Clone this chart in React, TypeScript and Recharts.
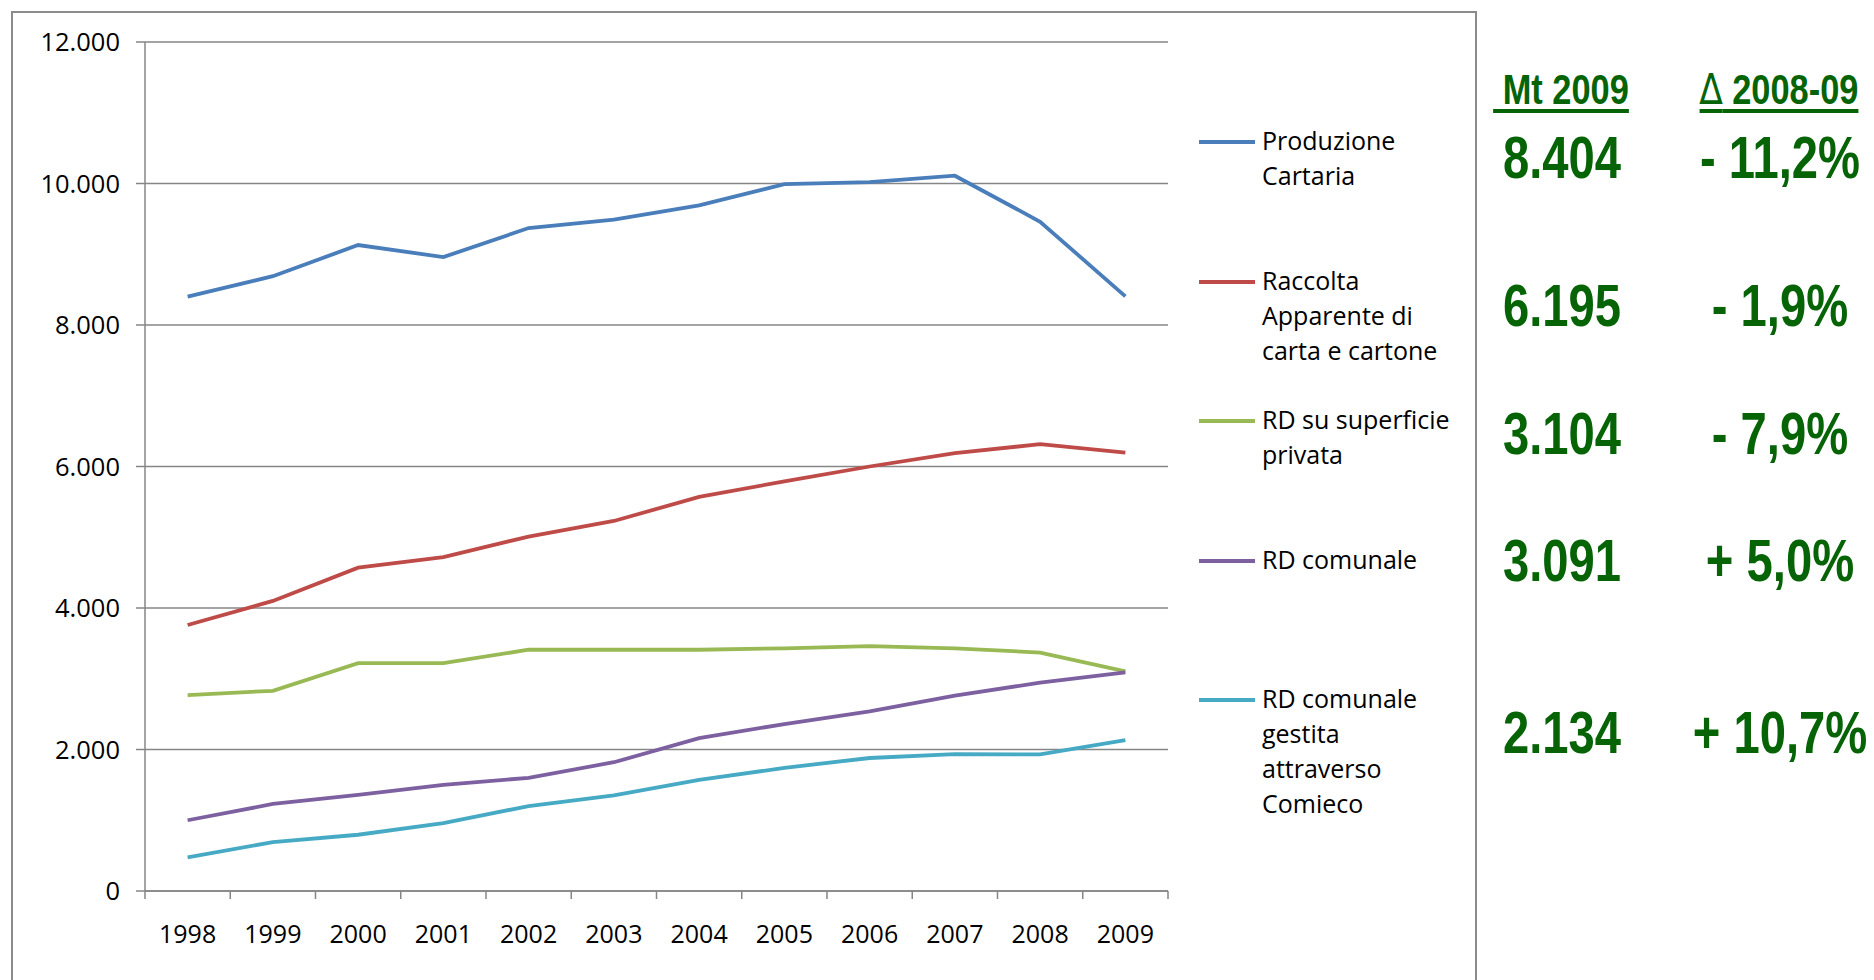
import { LineChart, Line, XAxis, YAxis, CartesianGrid } from 'recharts';

// Serie storiche (kt)
const years = ['1998', '1999', '2000', '2001', '2002', '2003', '2004', '2005', '2006', '2007', '2008', '2009'];
const produzioneCartaria = [8400, 8690, 9130, 8960, 9370, 9490, 9690, 9990, 10020, 10110, 9460, 8404];
const raccoltaApparente = [3760, 4100, 4570, 4720, 5010, 5230, 5570, 5790, 6000, 6190, 6315, 6195];
const rdPrivata = [2770, 2830, 3220, 3220, 3410, 3410, 3410, 3430, 3460, 3430, 3370, 3104];
const rdComunale = [1000, 1230, 1360, 1500, 1600, 1820, 2160, 2360, 2540, 2760, 2945, 3091];
const rdComieco = [475, 690, 795, 960, 1200, 1350, 1570, 1740, 1880, 1935, 1930, 2134];

const yTicks = [0, 2000, 4000, 6000, 8000, 10000, 12000];

// Colonne a destra
const mt2009 = ['8.404', '6.195', '3.104', '3.091', '2.134'];
const delta0809 = ['- 11,2%', '- 1,9%', '- 7,9%', '+ 5,0%', '+ 10,7%'];
const rowTops = [159, 307, 435, 562, 734];

const series = [
  { key: 'prod', name: ['Produzione', 'Cartaria'], color: '#4A7EBB', values: produzioneCartaria },
  { key: 'racc', name: ['Raccolta', 'Apparente di', 'carta e cartone'], color: '#BE4B48', values: raccoltaApparente },
  { key: 'priv', name: ['RD su superficie', 'privata'], color: '#98B954', values: rdPrivata },
  { key: 'com', name: ['RD comunale'], color: '#7D60A0', values: rdComunale },
  { key: 'comieco', name: ['RD comunale', 'gestita', 'attraverso', 'Comieco'], color: '#46AAC5', values: rdComieco },
];

const data = years.map((y, i) => {
  const row: Record<string, string | number> = { year: y };
  series.forEach((s) => {
    row[s.key] = s.values[i];
  });
  return row;
});

const FONT = '"Open Sans", sans-serif';
const GREEN = '#066406';
const AXIS = '#868686';

const fmt = (v: number) => v.toLocaleString('it-IT').replace(/\u00a0/g, '');

function YearTick(props: any) {
  const { x, y, payload, index, visibleTicksCount } = props;
  const off = payload.offset || 0;
  return (
    <g>
      <line x1={x - off} x2={x - off} y1={y} y2={y + 8} stroke={AXIS} strokeWidth={1.5} />
      {index === visibleTicksCount - 1 && (
        <line x1={x + off} x2={x + off} y1={y} y2={y + 8} stroke={AXIS} strokeWidth={1.5} />
      )}
      <text x={x} y={y + 45} textAnchor="middle" dominantBaseline="middle" fontFamily={FONT} fontSize={25} fill="#000">
        {payload.value}
      </text>
    </g>
  );
}

function LegendBox() {
  return (
    <div style={{ position: 'absolute', left: 1199, top: 123, fontFamily: FONT, fontSize: 25, color: '#000' }}>
      {series.map((s) => (
        <div key={s.key} style={{ height: 139.5, display: 'flex', alignItems: 'flex-start' }}>
          <div style={{ width: 56, height: 4, background: s.color, marginTop: 17, marginRight: 7 }} />
          <div style={{ lineHeight: '35px' }}>
            {s.name.map((t) => (
              <div key={t} style={{ whiteSpace: 'nowrap' }}>{t}</div>
            ))}
          </div>
        </div>
      ))}
    </div>
  );
}

const narrowBold: React.CSSProperties = {
  position: 'absolute',
  fontFamily: '"Liberation Sans", Arial, sans-serif',
  fontWeight: 'bold',
  color: GREEN,
  whiteSpace: 'pre',
  transform: 'translateX(-50%) scaleX(0.8)',
  lineHeight: 1,
};

export default function App() {
  return (
    <div style={{ position: 'absolute', left: 0, top: 0, width: 1874, height: 980, background: '#fff', overflow: 'hidden' }}>
      <div
        style={{
          position: 'absolute',
          left: 11,
          top: 11,
          width: 1466,
          height: 990,
          border: '2px solid #8c8c8c',
          boxSizing: 'border-box',
        }}
      />
      <div style={{ position: 'absolute', left: 0, top: 0 }}>
        <LineChart width={1478} height={980} data={data} margin={{ top: 42, right: 310, bottom: 29, left: 0 }}>
          <CartesianGrid vertical={false} stroke={AXIS} strokeWidth={1.5} />
          <XAxis
            dataKey="year"
            scale="band"
            interval={0}
            height={60}
            tickSize={0}
            tickMargin={0}
            tickLine={false}
            axisLine={{ stroke: AXIS, strokeWidth: 1.5 }}
            tick={<YearTick />}
          />
          <YAxis
            width={145}
            domain={[0, 12000]}
            ticks={yTicks}
            interval={0}
            tickFormatter={fmt}
            tickSize={9}
            tickMargin={16}
            axisLine={{ stroke: AXIS, strokeWidth: 1.5 }}
            tickLine={{ stroke: AXIS, strokeWidth: 1.5 }}
            tick={{ fontFamily: FONT, fontSize: 25.5, fill: '#000' }}
          />
          {series.map((s) => (
            <Line
              key={s.key}
              dataKey={s.key}
              stroke={s.color}
              strokeWidth={3.8}
              dot={false}
              activeDot={false}
              isAnimationActive={false}
            />
          ))}
        </LineChart>
      </div>
      <LegendBox />

      {/* intestazioni */}
      <div style={{ ...narrowBold, left: 1561, top: 68, fontSize: 43, textDecoration: 'underline', textUnderlineOffset: 5 }}>
        {' Mt 2009'}
      </div>
      <div style={{ ...narrowBold, left: 1779, top: 68, fontSize: 43, textDecoration: 'underline', textUnderlineOffset: 5 }}>
        <span style={{ fontFamily: '"DejaVu Sans", sans-serif', fontWeight: 'normal' }}>∆</span> 2008-09
      </div>

      {mt2009.map((v, i) => (
        <div key={'v' + i} style={{ ...narrowBold, left: 1562, top: rowTops[i] - 30, fontSize: 59 }}>
          {v}
        </div>
      ))}
      {delta0809.map((v, i) => (
        <div key={'d' + i} style={{ ...narrowBold, left: 1780, top: rowTops[i] - 30, fontSize: 59 }}>
          {v}
        </div>
      ))}
    </div>
  );
}
